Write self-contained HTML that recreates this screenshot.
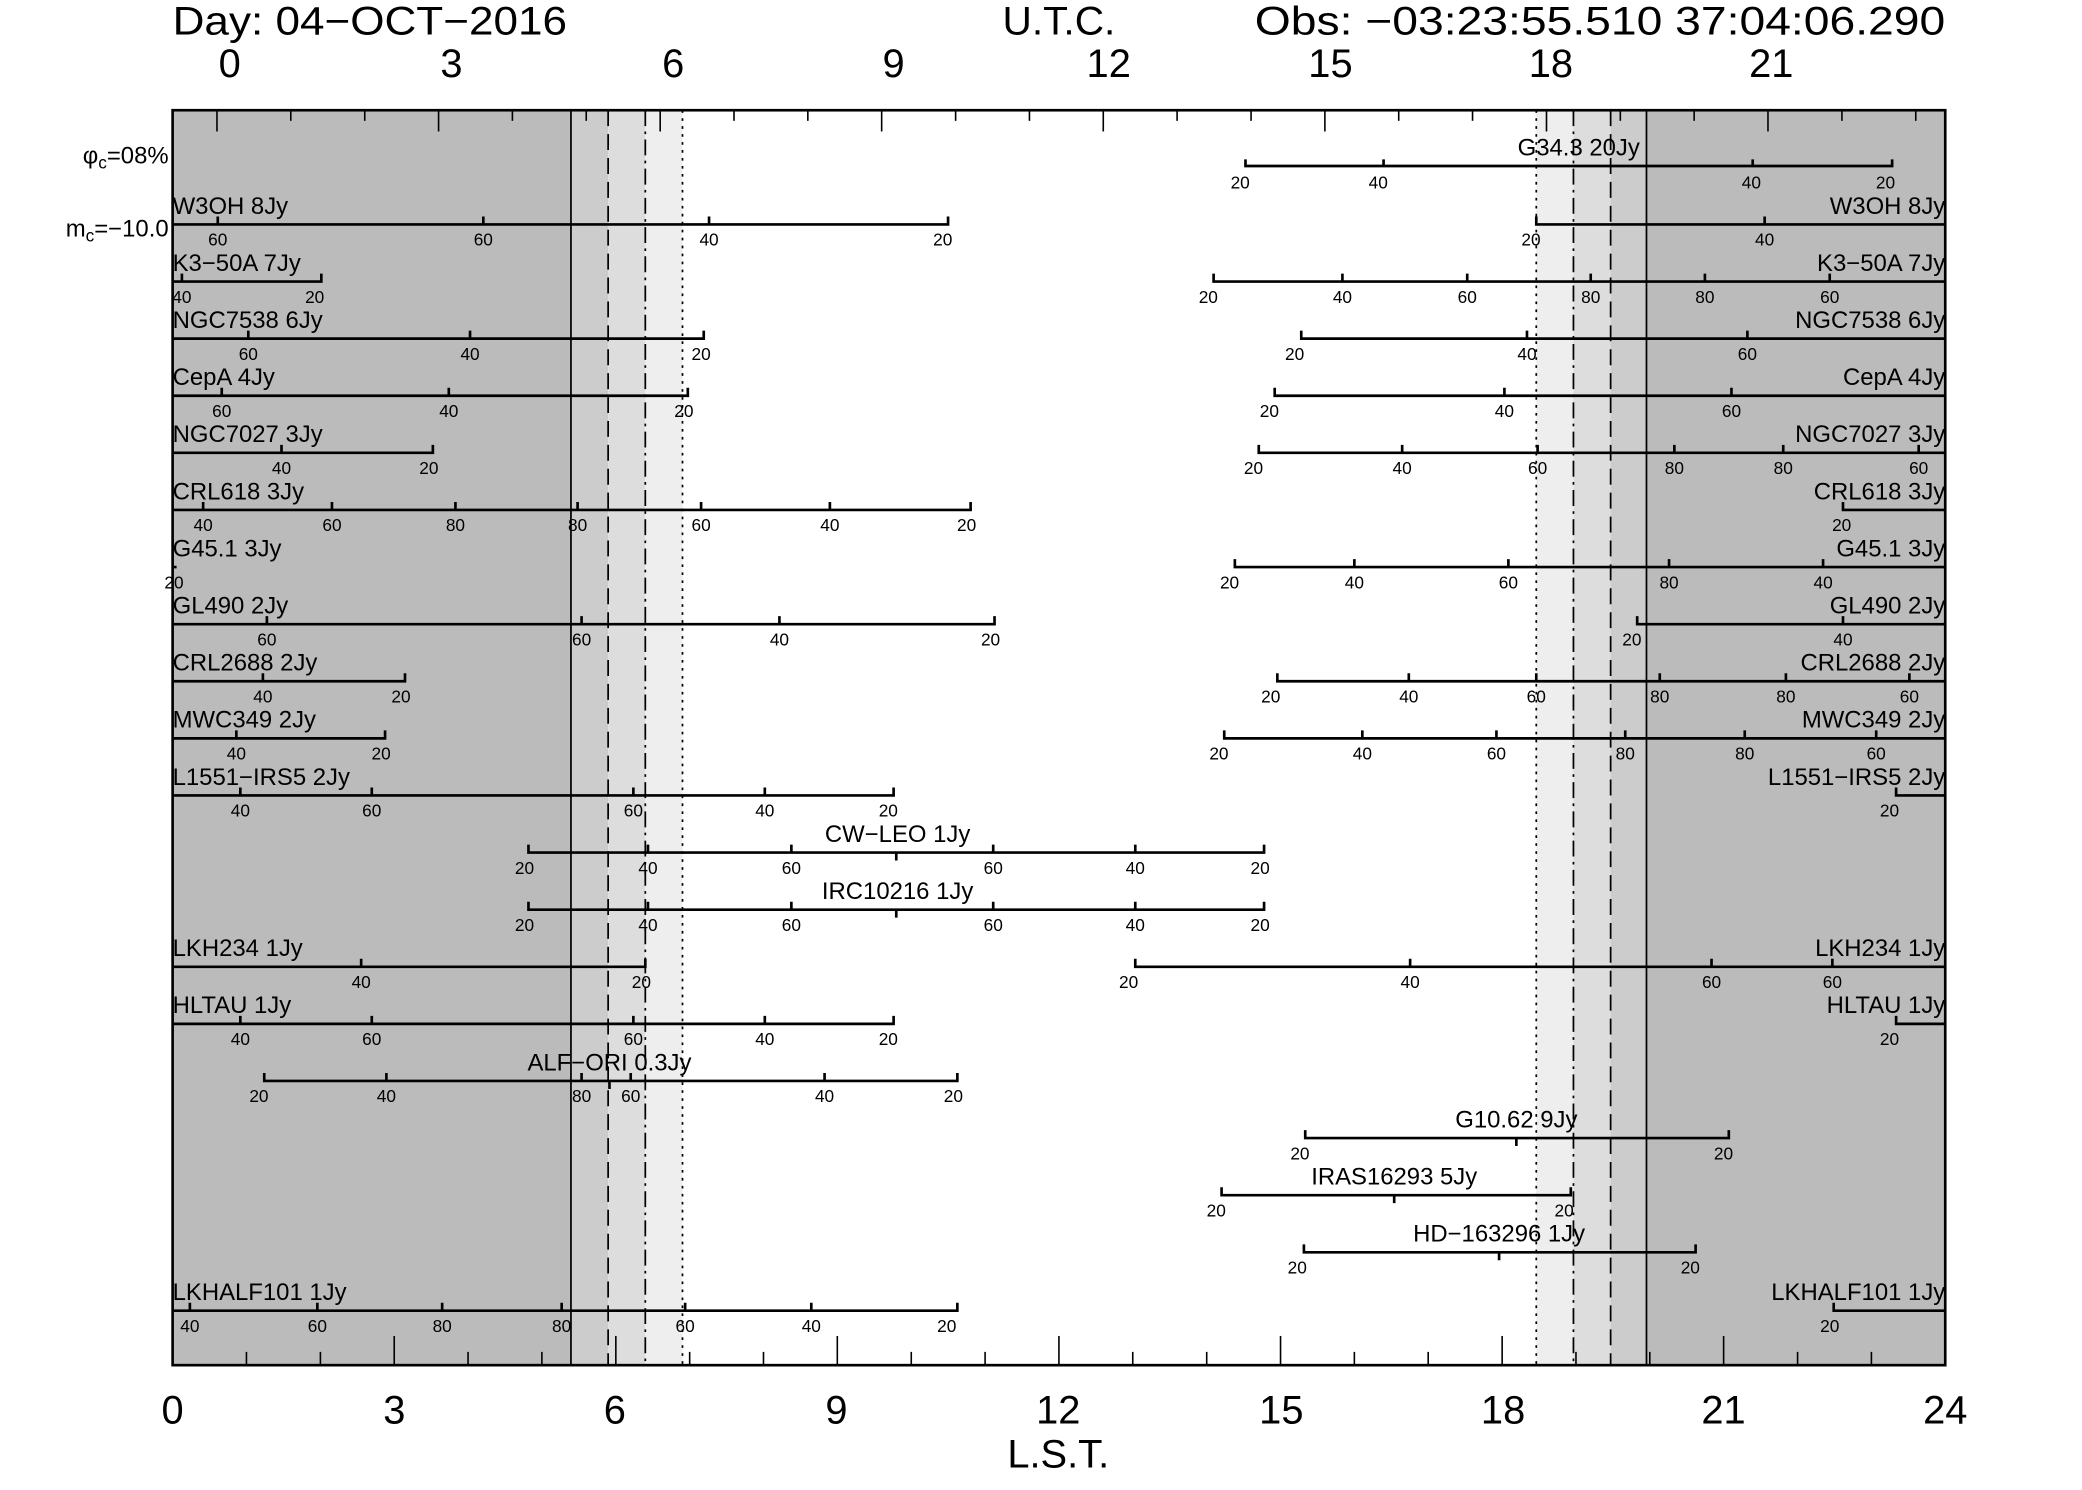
<!DOCTYPE html>
<html><head><meta charset="utf-8"><style>
html,body{margin:0;padding:0;background:#fff;}
svg{display:block;}
text{font-family:"Liberation Sans Narrow","Liberation Sans",sans-serif;fill:#000;}
.n{font-size:13px;text-anchor:middle;}
.l{font-size:18px;}
.r{font-size:18px;text-anchor:end;}
.c{font-size:18px;text-anchor:middle;}
.big{font-size:30px;}
.ax{font-size:30px;text-anchor:middle;}
</style></head><body>
<svg width="2082" height="1490" viewBox="0 0 1568 1122" preserveAspectRatio="none" xmlns="http://www.w3.org/2000/svg">
<rect x="0" y="0" width="1568" height="1122" fill="#fff"/>
<!-- shading -->
<rect x="130" y="83" width="300" height="945" fill="#bbbbbb"/>
<rect x="430" y="83" width="28" height="945" fill="#cccccc"/>
<rect x="458" y="83" width="28" height="945" fill="#dddddd"/>
<rect x="486" y="83" width="28" height="945" fill="#eeeeee"/>
<rect x="1157" y="83" width="28" height="945" fill="#eeeeee"/>
<rect x="1185" y="83" width="28" height="945" fill="#dddddd"/>
<rect x="1213" y="83" width="27" height="945" fill="#cccccc"/>
<rect x="1240" y="83" width="225" height="945" fill="#bbbbbb"/>
<g stroke="#000" stroke-width="1.3" fill="none">
<line x1="430" y1="83" x2="430" y2="1028"/>
<line x1="1240" y1="83" x2="1240" y2="1028"/>
<line x1="458" y1="83" x2="458" y2="1028" stroke-dasharray="12,6"/>
<line x1="1213" y1="83" x2="1213" y2="1028" stroke-dasharray="12,6"/>
<line x1="486" y1="83" x2="486" y2="1028" stroke-dasharray="12,4,2,4"/>
<line x1="1185" y1="83" x2="1185" y2="1028" stroke-dasharray="12,4,2,4"/>
<line x1="514" y1="83" x2="514" y2="1028" stroke-dasharray="2,4"/>
<line x1="1157" y1="83" x2="1157" y2="1028" stroke-dasharray="2,4"/>
</g>
<!-- border -->
<rect x="130" y="83" width="1335" height="945" fill="none" stroke="#000" stroke-width="2"/>
<!-- top ticks (UTC) -->
<g stroke="#000" stroke-width="1.2">
<line x1="163.4" y1="83" x2="163.4" y2="99"/><line x1="219" y1="83" x2="219" y2="91"/><line x1="274.7" y1="83" x2="274.7" y2="91"/>
<line x1="330.3" y1="83" x2="330.3" y2="99"/><line x1="385.9" y1="83" x2="385.9" y2="91"/><line x1="441.5" y1="83" x2="441.5" y2="91"/>
<line x1="497.2" y1="83" x2="497.2" y2="99"/><line x1="552.8" y1="83" x2="552.8" y2="91"/><line x1="608.4" y1="83" x2="608.4" y2="91"/>
<line x1="664" y1="83" x2="664" y2="99"/><line x1="719.7" y1="83" x2="719.7" y2="91"/><line x1="775.3" y1="83" x2="775.3" y2="91"/>
<line x1="830.9" y1="83" x2="830.9" y2="99"/><line x1="886.5" y1="83" x2="886.5" y2="91"/><line x1="942.2" y1="83" x2="942.2" y2="91"/>
<line x1="997.8" y1="83" x2="997.8" y2="99"/><line x1="1053.4" y1="83" x2="1053.4" y2="91"/><line x1="1109" y1="83" x2="1109" y2="91"/>
<line x1="1164.7" y1="83" x2="1164.7" y2="99"/><line x1="1220.3" y1="83" x2="1220.3" y2="91"/><line x1="1275.9" y1="83" x2="1275.9" y2="91"/>
<line x1="1331.5" y1="83" x2="1331.5" y2="99"/><line x1="1387.2" y1="83" x2="1387.2" y2="91"/><line x1="1442.8" y1="83" x2="1442.8" y2="91"/>
</g>
<!-- bottom ticks (LST) -->
<g stroke="#000" stroke-width="1.2">
<line x1="185.6" y1="1028" x2="185.6" y2="1018"/><line x1="241.3" y1="1028" x2="241.3" y2="1018"/><line x1="296.9" y1="1028" x2="296.9" y2="1006"/>
<line x1="352.5" y1="1028" x2="352.5" y2="1018"/><line x1="408.1" y1="1028" x2="408.1" y2="1018"/><line x1="463.8" y1="1028" x2="463.8" y2="1006"/>
<line x1="519.4" y1="1028" x2="519.4" y2="1018"/><line x1="575" y1="1028" x2="575" y2="1018"/><line x1="630.6" y1="1028" x2="630.6" y2="1006"/>
<line x1="686.3" y1="1028" x2="686.3" y2="1018"/><line x1="741.9" y1="1028" x2="741.9" y2="1018"/><line x1="797.5" y1="1028" x2="797.5" y2="1006"/>
<line x1="853.1" y1="1028" x2="853.1" y2="1018"/><line x1="908.8" y1="1028" x2="908.8" y2="1018"/><line x1="964.4" y1="1028" x2="964.4" y2="1006"/>
<line x1="1020" y1="1028" x2="1020" y2="1018"/><line x1="1075.6" y1="1028" x2="1075.6" y2="1018"/><line x1="1131.3" y1="1028" x2="1131.3" y2="1006"/>
<line x1="1186.9" y1="1028" x2="1186.9" y2="1018"/><line x1="1242.5" y1="1028" x2="1242.5" y2="1018"/><line x1="1298.1" y1="1028" x2="1298.1" y2="1006"/>
<line x1="1353.8" y1="1028" x2="1353.8" y2="1018"/><line x1="1409.4" y1="1028" x2="1409.4" y2="1018"/>
</g>
<!-- titles -->
<text x="130" y="26" class="big" textLength="297" lengthAdjust="spacingAndGlyphs">Day: 04−OCT−2016</text>
<text x="755" y="26" class="big" textLength="85" lengthAdjust="spacingAndGlyphs">U.T.C.</text>
<text x="945" y="26" class="big" textLength="520" lengthAdjust="spacingAndGlyphs">Obs: −03:23:55.510 37:04:06.290</text>
<g class="ax">
<text x="173" y="58">0</text><text x="340" y="58">3</text><text x="507" y="58">6</text><text x="673" y="58">9</text>
<text x="835" y="58">12</text><text x="1002" y="58">15</text><text x="1168" y="58">18</text><text x="1334" y="58">21</text>
<text x="130" y="1072">0</text><text x="297" y="1072">3</text><text x="463" y="1072">6</text><text x="630" y="1072">9</text>
<text x="797" y="1072">12</text><text x="965" y="1072">15</text><text x="1132" y="1072">18</text><text x="1298" y="1072">21</text><text x="1465" y="1072">24</text>
<text x="797" y="1105">L.S.T.</text>
</g>
<text x="127" y="123" style="font-size:18px;text-anchor:end">φ<tspan style="font-size:13px" dy="4">c</tspan><tspan dy="-4">=08%</tspan></text>
<text x="127" y="178" style="font-size:18px;text-anchor:end">m<tspan style="font-size:13px" dy="4">c</tspan><tspan dy="-4">=−10.0</tspan></text>

<!-- source lines -->
<g stroke="#000" stroke-width="2" fill="none">
<path d="M938 120V125H1425V120M1042 125V120M1320 125V120"/>
<path d="M130 169H714V163M364 169V163M534 169V163M164 169V163M1157 163V169H1465M1329 169V163"/>
<path d="M130 212H242V206M137 212V206M914 206V212H1465M1011 212V206M1105 212V206M1198 212V206M1284 212V206M1378 212V206"/>
<path d="M130 255H530V249M187 255V249M354 255V249M980 249V255H1465M1150 255V249M1316 255V249"/>
<path d="M130 298H518V292M167 298V292M338 298V292M960 292V298H1465M1133 298V292M1304 298V292"/>
<path d="M130 341H326V335M212 341V335M948 335V341H1465M1056 341V335M1158 341V335M1261 341V335M1343 341V335M1445 341V335"/>
<path d="M130 384H731V378M153 384V378M250 384V378M343 384V378M435 384V378M528 384V378M625 384V378M1388 378V384H1465"/>
<path d="M130 427H133M930 421V427H1465M1020 427V421M1136 427V421M1257 427V421M1373 427V421"/>
<path d="M130 470H749V464M201 470V464M438 470V464M587 470V464M1233 464V470H1465M1388 470V464"/>
<path d="M130 513H305V507M198 513V507M962 507V513H1465M1061 513V507M1157 513V507M1250 513V507M1345 513V507M1438 513V507"/>
<path d="M130 556H290V550M178 556V550M922 550V556H1465M1026 556V550M1127 556V550M1224 556V550M1314 556V550M1413 556V550"/>
<path d="M130 599H673V593M181 599V593M280 599V593M477 599V593M576 599V593M1428 593V599H1465"/>
<path d="M398 636V642H952V636M488 642V636M596 642V636M748 642V636M855 642V636M675 642V648"/>
<path d="M398 679V685H952V679M488 685V679M596 685V679M748 685V679M855 685V679M675 685V691"/>
<path d="M130 728H486V722M272 728V722M855 722V728H1465M1062 728V722M1289 728V722M1380 728V722"/>
<path d="M130 771H673V765M181 771V765M280 771V765M477 771V765M576 771V765M1428 765V771H1465"/>
<path d="M199 808V814H721V808M291 814V808M438 814V808M475 814V808M621 814V808M459 814V820"/>
<path d="M983 851V857H1302V851M1142 857V863"/>
<path d="M920 894V900H1183V894M1050 900V906"/>
<path d="M982 937V943H1277V937M1129 943V949"/>
<path d="M130 987H721V981M143 987V981M239 987V981M333 987V981M423 987V981M516 987V981M611 987V981M1381 981V987H1465"/>
</g>

<!-- labels -->
<text x="1235" y="117" class="r">G34.3 20Jy</text>
<text x="130" y="161" class="l">W3OH 8Jy</text><text x="1465" y="161" class="r">W3OH 8Jy</text>
<text x="130" y="204" class="l">K3−50A 7Jy</text><text x="1465" y="204" class="r">K3−50A 7Jy</text>
<text x="130" y="247" class="l">NGC7538 6Jy</text><text x="1465" y="247" class="r">NGC7538 6Jy</text>
<text x="130" y="290" class="l">CepA 4Jy</text><text x="1465" y="290" class="r">CepA 4Jy</text>
<text x="130" y="333" class="l">NGC7027 3Jy</text><text x="1465" y="333" class="r">NGC7027 3Jy</text>
<text x="130" y="376" class="l">CRL618 3Jy</text><text x="1465" y="376" class="r">CRL618 3Jy</text>
<text x="130" y="419" class="l">G45.1 3Jy</text><text x="1465" y="419" class="r">G45.1 3Jy</text>
<text x="130" y="462" class="l">GL490 2Jy</text><text x="1465" y="462" class="r">GL490 2Jy</text>
<text x="130" y="505" class="l">CRL2688 2Jy</text><text x="1465" y="505" class="r">CRL2688 2Jy</text>
<text x="130" y="548" class="l">MWC349 2Jy</text><text x="1465" y="548" class="r">MWC349 2Jy</text>
<text x="130" y="591" class="l">L1551−IRS5 2Jy</text><text x="1465" y="591" class="r">L1551−IRS5 2Jy</text>
<text x="676" y="634" class="c">CW−LEO 1Jy</text>
<text x="676" y="677" class="c">IRC10216 1Jy</text>
<text x="130" y="720" class="l">LKH234 1Jy</text><text x="1465" y="720" class="r">LKH234 1Jy</text>
<text x="130" y="763" class="l">HLTAU 1Jy</text><text x="1465" y="763" class="r">HLTAU 1Jy</text>
<text x="459" y="806" class="c">ALF−ORI 0.3Jy</text>
<text x="1142" y="849" class="c">G10.62 9Jy</text>
<text x="1050" y="892" class="c">IRAS16293 5Jy</text>
<text x="1129" y="935" class="c">HD−163296 1Jy</text>
<text x="130" y="979" class="l">LKHALF101 1Jy</text><text x="1465" y="979" class="r">LKHALF101 1Jy</text>

<!-- numbers -->
<g class="n">
<text x="934" y="142">20</text><text x="1038" y="142">40</text><text x="1319" y="142">40</text><text x="1420" y="142">20</text>
<text x="164" y="185">60</text><text x="364" y="185">60</text><text x="534" y="185">40</text><text x="710" y="185">20</text><text x="1153" y="185">20</text><text x="1329" y="185">40</text>
<text x="137" y="228">40</text><text x="237" y="228">20</text><text x="910" y="228">20</text><text x="1011" y="228">40</text><text x="1105" y="228">60</text><text x="1198" y="228">80</text><text x="1284" y="228">80</text><text x="1378" y="228">60</text>
<text x="187" y="271">60</text><text x="354" y="271">40</text><text x="528" y="271">20</text><text x="975" y="271">20</text><text x="1150" y="271">40</text><text x="1316" y="271">60</text>
<text x="167" y="314">60</text><text x="338" y="314">40</text><text x="515" y="314">20</text><text x="956" y="314">20</text><text x="1133" y="314">40</text><text x="1304" y="314">60</text>
<text x="212" y="357">40</text><text x="323" y="357">20</text><text x="944" y="357">20</text><text x="1056" y="357">40</text><text x="1158" y="357">60</text><text x="1261" y="357">80</text><text x="1343" y="357">80</text><text x="1445" y="357">60</text>
<text x="153" y="400">40</text><text x="250" y="400">60</text><text x="343" y="400">80</text><text x="435" y="400">80</text><text x="528" y="400">60</text><text x="625" y="400">40</text><text x="728" y="400">20</text><text x="1387" y="400">20</text>
<text x="131" y="443">20</text><text x="926" y="443">20</text><text x="1020" y="443">40</text><text x="1136" y="443">60</text><text x="1257" y="443">80</text><text x="1373" y="443">40</text>
<text x="201" y="486">60</text><text x="438" y="486">60</text><text x="587" y="486">40</text><text x="746" y="486">20</text><text x="1229" y="486">20</text><text x="1388" y="486">40</text>
<text x="198" y="529">40</text><text x="302" y="529">20</text><text x="957" y="529">20</text><text x="1061" y="529">40</text><text x="1157" y="529">60</text><text x="1250" y="529">80</text><text x="1345" y="529">80</text><text x="1438" y="529">60</text>
<text x="178" y="572">40</text><text x="287" y="572">20</text><text x="918" y="572">20</text><text x="1026" y="572">40</text><text x="1127" y="572">60</text><text x="1224" y="572">80</text><text x="1314" y="572">80</text><text x="1413" y="572">60</text>
<text x="181" y="615">40</text><text x="280" y="615">60</text><text x="477" y="615">60</text><text x="576" y="615">40</text><text x="669" y="615">20</text><text x="1423" y="615">20</text>
<text x="395" y="658">20</text><text x="488" y="658">40</text><text x="596" y="658">60</text><text x="748" y="658">60</text><text x="855" y="658">40</text><text x="949" y="658">20</text>
<text x="395" y="701">20</text><text x="488" y="701">40</text><text x="596" y="701">60</text><text x="748" y="701">60</text><text x="855" y="701">40</text><text x="949" y="701">20</text>
<text x="272" y="744">40</text><text x="483" y="744">20</text><text x="850" y="744">20</text><text x="1062" y="744">40</text><text x="1289" y="744">60</text><text x="1380" y="744">60</text>
<text x="181" y="787">40</text><text x="280" y="787">60</text><text x="477" y="787">60</text><text x="576" y="787">40</text><text x="669" y="787">20</text><text x="1423" y="787">20</text>
<text x="195" y="830">20</text><text x="291" y="830">40</text><text x="438" y="830">80</text><text x="475" y="830">60</text><text x="621" y="830">40</text><text x="718" y="830">20</text>
<text x="979" y="873">20</text><text x="1298" y="873">20</text>
<text x="916" y="916">20</text><text x="1178" y="916">20</text>
<text x="977" y="959">20</text><text x="1273" y="959">20</text>
<text x="143" y="1003">40</text><text x="239" y="1003">60</text><text x="333" y="1003">80</text><text x="423" y="1003">80</text><text x="516" y="1003">60</text><text x="611" y="1003">40</text><text x="713" y="1003">20</text><text x="1378" y="1003">20</text>
</g>
</svg>
</body></html>
